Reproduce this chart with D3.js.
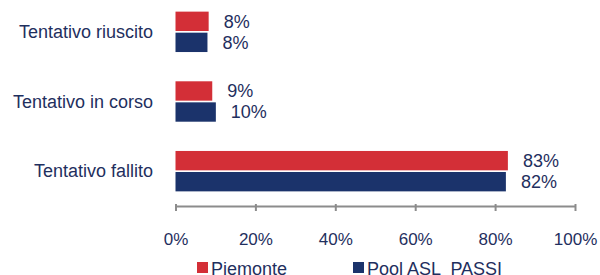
<!DOCTYPE html>
<html lang="en">
<head>
<script src="https://d3js.org/d3.v7.min.js"></script>
<style>
  body { margin: 0; background: #fff; }
  text { font-family: "Liberation Sans", Arial, sans-serif; fill: #1f2f5e; }
</style>
</head>
<body>
<script>
  // chart data
  const categories = ["Tentativo riuscito", "Tentativo in corso", "Tentativo fallito"];
  const seriesNames = ["Piemonte", "Pool ASL  PASSI"];
  const piemonte = [8.3, 9.2, 83.2];
  const pool = [8.0, 10.1, 82.7];
  const labelsPiemonte = ["8%", "9%", "83%"];
  const labelsPool = ["8%", "10%", "82%"];
  const xTicks = [0, 20, 40, 60, 80, 100];
  const colors = ["#d32f37", "#1b336b"];

  const W = 600, H = 275;
  const svg = d3.select("body").append("svg").attr("width", W).attr("height", H);

  const x = d3.scaleLinear().domain([0, 100]).range([175.5, 575]);
  const y = d3.scaleBand().domain(categories).range([-3, 206]).paddingInner(0.42).paddingOuter(0.21);
  const sub = d3.scaleBand().domain([0, 1]).range([0, y.bandwidth()]).paddingInner(0.08);

  const series = [piemonte, pool];
  const labels = [labelsPiemonte, labelsPool];

  series.forEach(function(vals, s) {
    const g = svg.append("g");
    g.selectAll("rect")
      .data(vals)
      .enter()
      .append("rect")
      .attr("x", x(0))
      .attr("y", (d, i) => y(categories[i]) + sub(s))
      .attr("width", d => x(d) - x(0))
      .attr("height", sub.bandwidth())
      .attr("fill", colors[s]);

    g.selectAll("text")
      .data(vals)
      .enter()
      .append("text")
      .attr("x", d => x(d) + 15)
      .attr("y", (d, i) => y(categories[i]) + sub(s) + sub.bandwidth() / 2)
      .attr("dy", "0.35em")
      .style("font-size", "18px")
      .text((d, i) => labels[s][i]);
  });

  // category labels
  svg.append("g").selectAll("text")
    .data(categories)
    .enter()
    .append("text")
    .attr("x", 153)
    .attr("y", d => y(d) + y.bandwidth() / 2)
    .attr("dy", "0.35em")
    .attr("text-anchor", "end")
    .style("font-size", "18px")
    .text(d => d);

  // x axis
  const axisY = 206;
  const axis = svg.append("g").attr("transform", "translate(0," + axisY + ")")
    .call(d3.axisBottom(x).tickValues(xTicks).tickSize(5).tickSizeOuter(0).tickFormat(d => d + "%").tickPadding(22));
  axis.select(".domain").attr("stroke", "#8c8c8c").attr("stroke-width", 2);
  axis.selectAll(".tick line").attr("stroke", "#8c8c8c").attr("stroke-width", 2).attr("y1", -2);
  axis.selectAll(".tick text").style("font-size", "17px").attr("fill", "#1f2f5e");

  // legend
  const legendX = [197, 353];
  const leg = svg.append("g");
  seriesNames.forEach(function(name, i) {
    leg.append("rect")
      .attr("x", legendX[i]).attr("y", 262)
      .attr("width", 11).attr("height", 11)
      .attr("fill", colors[i]);
    leg.append("text")
      .attr("x", legendX[i] + 14).attr("y", 275)
      .style("font-size", "18px")
      .style("white-space", "pre")
      .attr("xml:space", "preserve")
      .text(name);
  });
</script>
</body>
</html>
